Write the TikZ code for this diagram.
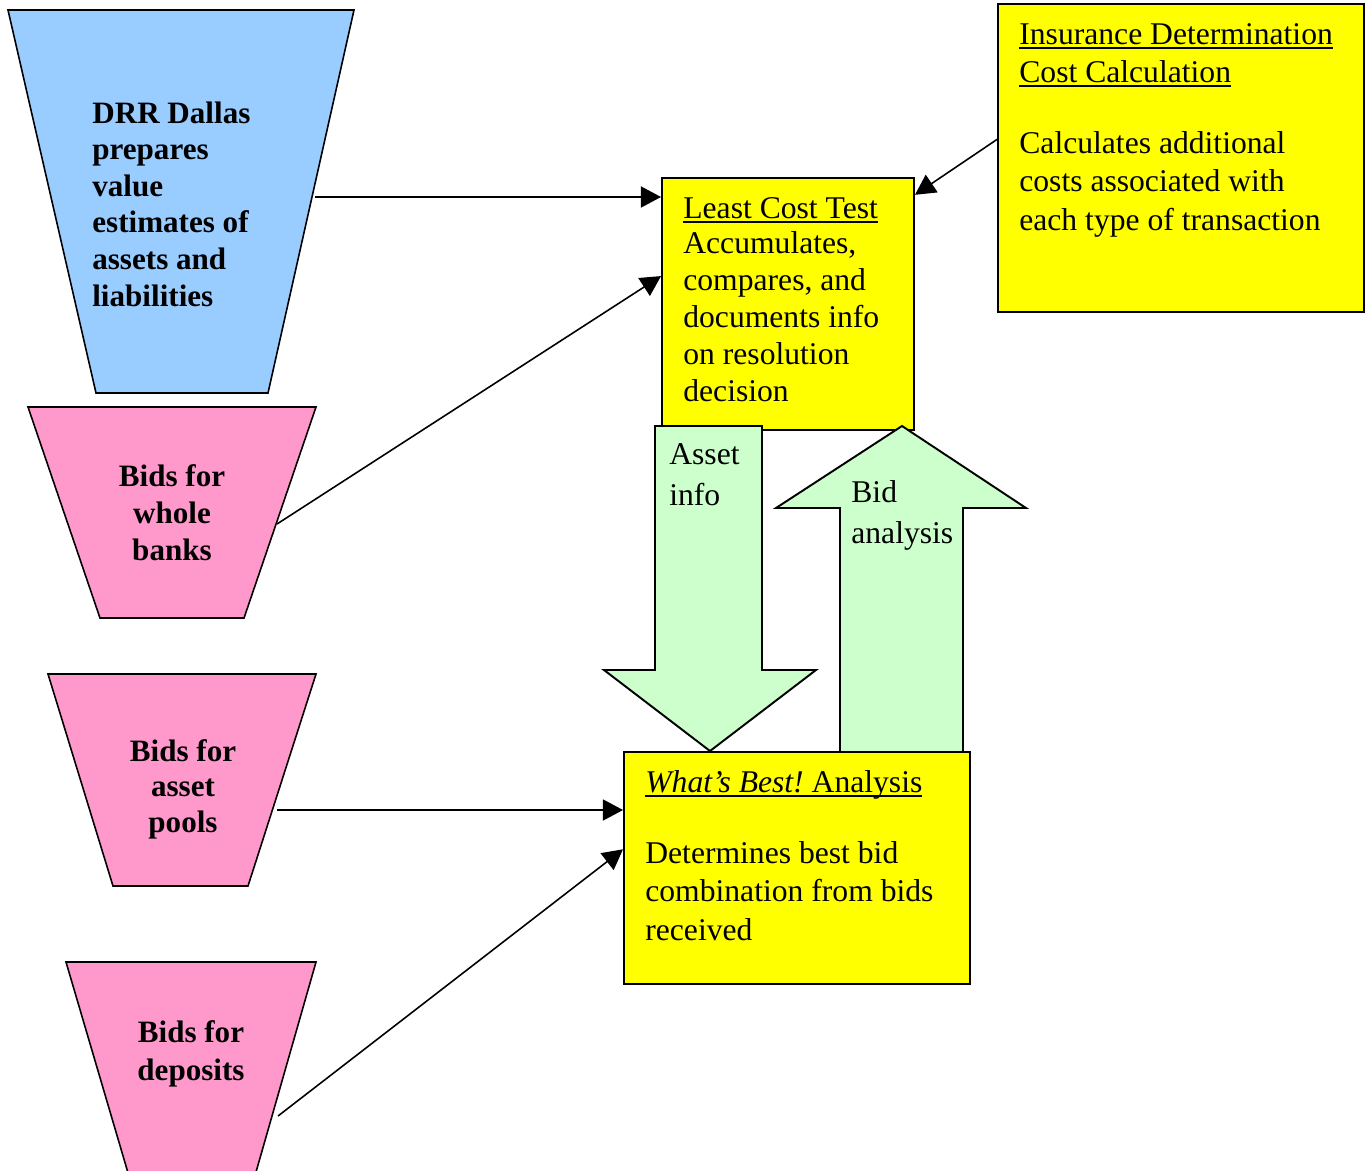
\documentclass[tikz,border=0pt]{standalone}
\usepackage{fontspec}
\setmainfont{Liberation Serif}
\usetikzlibrary{arrows.meta,calc,fit}

\definecolor{drrblue}{HTML}{99CCFF}
\definecolor{bidpink}{HTML}{FF99CC}
\definecolor{boxyellow}{HTML}{FFFF00}
\definecolor{flowgreen}{HTML}{CCFFCC}

% underlined title text
\newsavebox{\ttlbox}
\newcommand{\ttl}[1]{\sbox{\ttlbox}{#1}\rlap{\rule[-2.7pt]{\wd\ttlbox}{1pt}}\usebox{\ttlbox}}

\tikzset{
  funnel/.style={draw, line width=0.9pt, line join=miter},
  ybox/.style={draw, fill=boxyellow, line width=1.1pt, inner sep=0pt},
  flow/.style={draw, fill=flowgreen, line width=1.1pt, line join=miter},
  feed/.style={-{Triangle[length=11.5pt,width=12pt]}, line width=0.9pt},
  % base anchor sits on the last line
  bodytxt/.style={anchor=base west, align=left, inner sep=0pt,
    font=\fontsize{18}{21.8}\selectfont},
  bidtxt/.style={anchor=base, align=center, inner sep=0pt,
    font=\fontsize{17.7}{20.8}\selectfont\bfseries},
}

\begin{document}
\begin{tikzpicture}[x=0.02cm, y=-0.02cm]
    \useasboundingbox (0,0) rectangle (1371,1170);

    % funnels on the left
    \draw[funnel, fill=drrblue] (8,10) -- (354,10) -- (268,393) -- (96,393) -- cycle;
    \draw[funnel, fill=bidpink] (28,407) -- (316,407) -- (244,618) -- (100,618) -- cycle;
    \draw[funnel, fill=bidpink] (48,674) -- (316,674) -- (248,886) -- (113,886) -- cycle;
    \draw[funnel, fill=bidpink] (66,962) -- (316,962) -- (248,1200) -- (136,1200) -- cycle;

    \node[bidtxt, anchor=base west, align=left] (drr) at (92,306)
      {DRR Dallas\\ prepares\\ value\\ estimates of\\ assets and\\ liabilities};
    \node[bidtxt] (bids1) at (172,560) {Bids for\\ whole\\ banks};
    \node[bidtxt, font=\fontsize{17.7}{20.2}\selectfont\bfseries] (bids2) at (183,832)
      {Bids for\\ asset\\ pools};
    \node[bidtxt, font=\fontsize{17.7}{21.6}\selectfont\bfseries] (bids3) at (191,1080)
      {Bids for\\ deposits};

    \coordinate (drr-out) at (315,197);
    \coordinate (bids1-out) at (277,524);
    \coordinate (bids2-out) at (277,810);
    \coordinate (bids3-out) at (278,1116);

    % yellow boxes
    \node[ybox, fit={(662,178) (914,430)}] (lct) {};
    \node[ybox, fit={(998,4) (1364,312)}] (idc) {};

    \node[bodytxt] (lct-title) at (683,218) {\ttl{Least Cost Test}};
    \node[bodytxt, font=\fontsize{18}{21}\selectfont] (lct-text) at (683,401)
      {Accumulates,\\ compares, and\\ documents info\\ on resolution\\ decision};
    \node[bodytxt, font=\fontsize{18}{21.6}\selectfont] (idc-title) at (1019,82)
      {\ttl{Insurance Determination}\\ \ttl{Cost Calculation}};
    \node[bodytxt] (idc-text) at (1019,230)
      {Calculates additional\\ costs associated with\\ each type of transaction};

    % green flow arrows
    \draw[flow] (655,426) -- (762,426) -- (762,670) -- (816,670) -- (710,751)
      -- (604,670) -- (655,670) -- cycle;
    \draw[flow] (840,752) -- (840,508) -- (776,508) -- (902,426) -- (1026,508)
      -- (963,508) -- (963,752) -- cycle;
    \node[bodytxt, font=\fontsize{18}{22.8}\selectfont] (asset) at (669,505) {Asset\\ info};
    \node[bodytxt, font=\fontsize{18}{22.8}\selectfont] (bidan) at (851,543) {Bid\\ analysis};

    \node[ybox, fit={(624,752) (970,984)}] (wb) {};
    \node[bodytxt] (wb-title) at (645,792) {\ttl{{\itshape What’s Best!}\ Analysis}};
    \node[bodytxt] (wb-text) at (645,940)
      {Determines best bid\\ combination from bids\\ received};

    % connectors
    \draw[feed] (drr-out) -- (drr-out -| lct.west);
    \draw[feed] (bids1-out) -- ($(lct.north west)!0.39!(lct.south west)$);
    \draw[feed] ($(idc.north west)!0.44!(idc.south west)$)
      -- ($(lct.north east)!0.07!(lct.south east)$);
    \draw[feed] (bids2-out) -- (bids2-out -| wb.west);
    \draw[feed] (bids3-out) -- ($(wb.north west)!0.42!(wb.south west)$);
\end{tikzpicture}
\end{document}
